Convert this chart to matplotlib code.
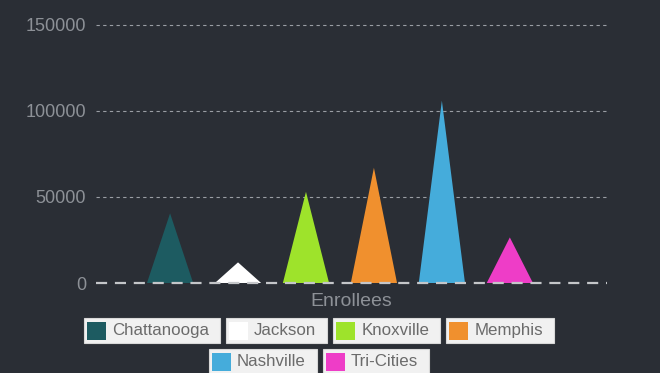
import matplotlib
matplotlib.use('Agg')
import matplotlib.pyplot as plt
from matplotlib.patches import Rectangle

plt.rcParams['font.family'] = ['Liberation Sans', 'DejaVu Sans']

cities = ['Chattanooga', 'Jackson', 'Knoxville', 'Memphis', 'Nashville', 'Tri-Cities']
enrollees = [40500, 12000, 53000, 67000, 106000, 26500]
colors = ['#1d5b61', '#ffffff', '#9ee32b', '#f0902e', '#45acdb', '#ee3dc7']
yticks = [0, 50000, 100000, 150000]

bg = '#2a2e35'
W, H = 660, 373

fig = plt.figure(figsize=(6.6, 3.73), dpi=100, facecolor=bg)
ax = fig.add_axes([96 / W, 1 - 283 / H, (607 - 96) / W, (283 - 20) / H])
ax.set_facecolor(bg)

# pyramid "bars"
half = 0.34
for i, (v, c) in enumerate(zip(enrollees, colors)):
    ax.fill([i - half, i, i + half], [0, v, 0], color=c, lw=0, zorder=2)

ax.set_xlim(-1.09, 6.43)
ax.set_ylim(0, 152900)
ax.set_yticks(yticks)
ax.set_yticklabels([str(t) for t in yticks])
ax.set_xticks([])
ax.tick_params(axis='y', length=0, pad=7, labelsize=13, labelcolor='#8d9197')
for s in ax.spines.values():
    s.set_visible(False)

for t in yticks[1:]:
    ax.axhline(t, color='#9a9ea4', lw=0.8, ls=(0, (3, 3)), zorder=1)
ax.axhline(0, color='#c4c6c9', lw=1.6, ls=(0, (5, 3.5)), zorder=3, clip_on=False)

ax.set_xlabel('Enrollees', fontsize=14, color='#8d9197', labelpad=7)

# legend: one white box per city, centered rows
renderer = fig.canvas.get_renderer()
widths = []
for name in cities:
    t = fig.text(0, 0, name, fontsize=12.2)
    widths.append(t.get_window_extent(renderer).width)
    t.remove()

rows = [range(0, 4), range(4, 6)]
row_tops = [318, 349]
box_h = 25
gap = 6
center = 319
for row, top in zip(rows, row_tops):
    ews = [4 + 19 + 6 + widths[i] + 10 for i in row]
    x = center - (sum(ews) + gap * (len(ews) - 1)) / 2
    for i, ew in zip(row, ews):
        y0 = H - top - box_h
        fig.patches.append(Rectangle((x / W, y0 / H), ew / W, box_h / H,
                                     transform=fig.transFigure, facecolor='#f1f1f1',
                                     edgecolor='#d8d8d8', lw=0.8))
        fig.patches.append(Rectangle(((x + 3) / W, (y0 + 3.5) / H), 19 / W, 18 / H,
                                     transform=fig.transFigure, facecolor=colors[i], lw=0))
        fig.text((x + 28) / W, (y0 + box_h / 2) / H, cities[i], fontsize=12.2,
                 color='#6b6b6b', va='center', ha='left')
        x += ew + gap

fig.savefig('out.png', dpi=100, facecolor=bg)
